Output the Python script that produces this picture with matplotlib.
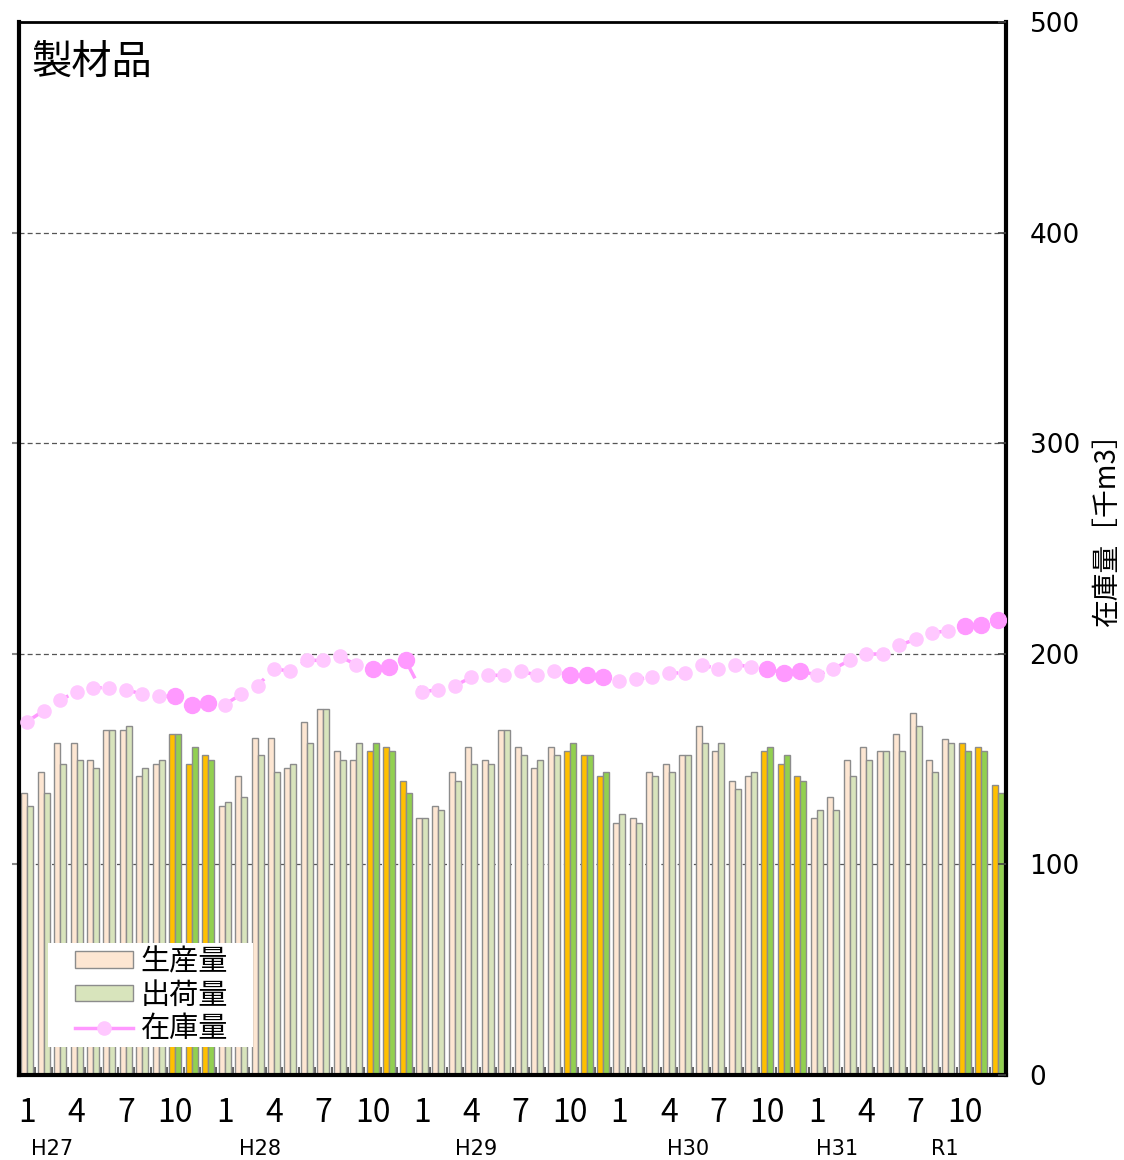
import numpy as np
import matplotlib
matplotlib.use("Agg")
import matplotlib.pyplot as plt
import matplotlib.patches as mpatches
import matplotlib.transforms as mtransforms
from matplotlib.lines import Line2D

plt.rcParams['font.family'] = ['Noto Sans CJK JP', 'DejaVu Sans']

# 月次データ H27.1 - R1.12 (60か月)
production = [
    133.8, 143.7, 157.8, 157.8, 149.7, 163.8, 163.8, 141.8, 147.7, 161.8, 147.7, 151.8,
    127.7, 141.8, 159.9, 159.9, 145.6, 167.8, 173.6, 153.7, 149.7, 153.7, 155.7, 139.8,
    121.9, 127.7, 143.7, 155.7, 149.7, 163.8, 155.7, 145.6, 155.7, 153.7, 151.8, 141.8,
    119.8, 121.9, 143.7, 147.7, 151.8, 165.7, 153.7, 139.8, 141.8, 153.7, 147.7, 141.8,
    121.9, 131.8, 149.7, 155.7, 153.7, 161.8, 171.7, 149.7, 159.7, 157.8, 155.7, 137.7,
]
shipments = [
    127.7, 133.8, 147.7, 149.7, 145.6, 163.8, 165.7, 145.6, 149.7, 161.8, 155.7, 149.7,
    129.8, 131.8, 151.8, 143.7, 147.7, 157.8, 173.6, 149.7, 157.8, 157.8, 153.7, 133.8,
    121.9, 125.8, 139.8, 147.7, 147.7, 163.8, 151.8, 149.7, 151.8, 157.8, 151.8, 143.7,
    123.8, 119.8, 141.8, 143.7, 151.8, 157.8, 157.8, 135.8, 143.7, 155.7, 151.8, 139.8,
    125.8, 125.8, 141.8, 149.7, 153.7, 153.7, 165.9, 143.7, 157.8, 153.7, 153.7, 133.8,
]
inventory = [
    167.8, 173.0, 178.1, 181.9, 183.9, 183.9, 183.0, 180.8, 179.8, 179.8, 175.8, 176.8,
    175.8, 180.8, 184.9, 192.8, 191.8, 196.9, 196.9, 198.8, 194.8, 192.8, 193.9, 196.9,
    181.9, 183.0, 184.9, 188.8, 189.8, 189.8, 191.8, 189.8, 191.8, 190.0, 190.0, 188.8,
    186.9, 187.9, 188.8, 190.9, 190.9, 194.8, 192.8, 194.8, 193.9, 192.8, 190.9, 191.8,
    189.9, 192.8, 196.9, 199.9, 199.9, 204.0, 206.9, 209.9, 211.0, 213.0, 213.8, 215.9,
]
month_labels = ['1', '4', '7', '10']
year_labels = ['H27', 'H28', 'H29', 'H30', 'H31', 'R1']
year_label_pos = [1.5, 14.15, 27.3, 40.2, 49.2, 55.8]

n = len(production)
months = np.arange(n)
highlight = (months % 12) >= 9   # 10〜12月

fig = plt.figure(figsize=(11.24, 11.6), dpi=100)
ax = fig.add_axes([19 / 1124, 85 / 1160, 987 / 1124, 1053 / 1160])

prod_colors = ['#FFC000' if h else '#FDE6D2' for h in highlight]
ship_colors = ['#92D050' if h else '#D8E4BC' for h in highlight]
w = 0.365
ax.bar(months - w / 2, production, width=w, color=prod_colors,
       edgecolor='#8C8C8C', linewidth=1.0, zorder=2)
ax.bar(months + w / 2, shipments, width=w, color=ship_colors,
       edgecolor='#8C8C8C', linewidth=1.0, zorder=2)

ax.plot(months, inventory, color='#FF99FF', linewidth=2.5,
        dashes=(4, 2.5, 1, 2.5), zorder=3)
inv = np.array(inventory)
ax.plot(months[~highlight], inv[~highlight], 'o', ms=9.5,
        color='#FFC8FF', mec='#FFC8FF', zorder=4)
ax.plot(months[highlight], inv[highlight], 'o', ms=11.5,
        color='#FF99FF', mec='#FF99FF', zorder=4)

ax.set_xlim(-0.5, n - 0.5)
ax.set_ylim(0, 500)

# グリッド
for v in [100, 200, 300, 400]:
    ax.axhline(v, color='#555555', linewidth=0.9, dashes=(4, 2.5), zorder=1)

for side in ['left', 'right', 'bottom']:
    ax.spines[side].set_linewidth(3)
ax.spines['top'].set_linewidth(2)

ax.set_yticks([100, 200, 300, 400])
ax.tick_params(axis='y', which='major', left=True, right=False, labelleft=False,
               direction='out', length=5, width=1.5, color='#888888')

# x軸: 月境界に内向きの目盛、ラベルは 1,4,7,10 月
ax.set_xticks(np.arange(n + 1) - 0.5)
ax.tick_params(axis='x', which='major', direction='in', length=6, width=1.2,
               color='#444444', labelbottom=False)
label_pos = [i for i in months if (i % 12) in (0, 3, 6, 9)]
ax.set_xticks(label_pos, minor=True)
ax.set_xticklabels([month_labels[(i % 12) // 3] for i in label_pos], minor=True)
ax.tick_params(axis='x', which='minor', length=0, pad=16, labelsize=23)

trans = mtransforms.blended_transform_factory(ax.transData, fig.transFigure)
for pos, lab in zip(year_label_pos, year_labels):
    ax.text(pos, 0.001, lab, transform=trans, ha='center', va='bottom',
            fontsize=15, family=['DejaVu Sans'])

ax2 = ax.twinx()
ax2.set_ylim(0, 500)
ax2.set_yticks([0, 100, 200, 300, 400, 500])
ax2.tick_params(axis='y', direction='in', length=6, width=1.2, color='#444444',
                labelsize=19, pad=17)
for lab in ax2.get_yticklabels():
    lab.set_family(['DejaVu Sans'])
for s in ax2.spines.values():
    s.set_visible(False)
fig.text(1107 / 1124, 1 - 522 / 1160, '在庫量［千m3］', rotation=90,
         fontsize=20, ha='center', va='center')

ax.text(0.013, 0.962, '製材品', transform=ax.transAxes, fontsize=29,
        ha='left', va='center')

# 凡例の白い背景
ax.add_patch(mpatches.Rectangle((29 / 987, 28 / 1053), 205 / 987, 104 / 1053,
                                transform=ax.transAxes, facecolor='white',
                                edgecolor='none', zorder=5))
handles = [
    mpatches.Patch(facecolor='#FDE6D2', edgecolor='#8C8C8C', label='生産量'),
    mpatches.Patch(facecolor='#D8E4BC', edgecolor='#8C8C8C', label='出荷量'),
    Line2D([0], [0], color='#FF99FF', linewidth=2.5, marker='o', ms=9.5,
           mfc='#FFC8FF', mec='#FFC8FF', label='在庫量'),
]
leg = ax.legend(handles=handles, loc='lower left',
                bbox_to_anchor=(56 / 987, 31 / 1053), borderaxespad=0,
                fontsize=21, frameon=False,
                handlelength=2.0, handleheight=0.5, labelspacing=0.12,
                handletextpad=0.25, borderpad=0.0)
leg.set_zorder(6)

fig.savefig('out.png', dpi=100)
